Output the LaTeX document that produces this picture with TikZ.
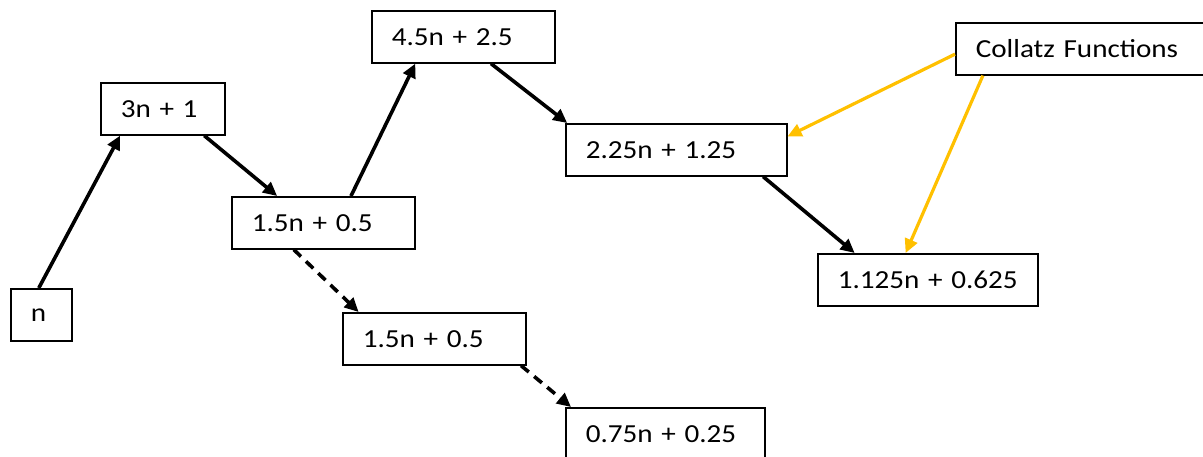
\documentclass[tikz,border=0pt]{standalone}
\usepackage{fontspec}
\setmainfont{Carlito}[FakeStretch=1.12]
\usetikzlibrary{calc,arrows.meta}
\definecolor{gold}{HTML}{FFC000}

\begin{document}
\begin{tikzpicture}[x=1pt, y=-1pt,
  fbox/.style={draw, line width=1.6pt, inner xsep=20pt, inner ysep=0pt, minimum height=52pt,
    anchor=north west, align=left, text width=#1, font=\fontsize{26}{30}\selectfont},
  arr/.style={line width=3.6pt, -{Triangle[length=14pt, width=13pt]}},
  dasharr/.style={arr, dash pattern=on 10pt off 7pt},
  goldarr/.style={arr, draw=gold, line width=3.2pt}]
  \useasboundingbox (0, 0) rectangle (1203, 457);
  \node[fbox=21pt] (n) at (10, 288) {n};
  \node[fbox=84pt] (threen) at (100, 82) {3n + 1};
  \node[fbox=143pt] (halfa) at (231, 196) {1.5n + 0.5};
  \node[fbox=143pt] (fourhalf) at (371, 10) {4.5n + 2.5};
  \node[fbox=143pt] (halfb) at (342, 312) {1.5n + 0.5};
  \node[fbox=159pt] (quarter) at (565, 407) {0.75n + 0.25};
  \node[fbox=181pt] (twoquarter) at (565, 123) {2.25n + 1.25};
  \node[fbox=180pt] (eighth) at (817, 253) {1.125n + 0.625};
  \node[fbox=212pt] (collatz) at (955, 22) {Collatz Functions};
  % main path
  \draw[arr] ($(n.north west)!.46!(n.north east)$) -- ($(threen.south west)!.16!(threen.south east)$);
  \draw[arr] ($(threen.south west)!.83!(threen.south east)$) -- ($(halfa.north west)!.25!(halfa.north east)$);
  \draw[arr] ($(halfa.north west)!.65!(halfa.north east)$) -- ($(fourhalf.south west)!.24!(fourhalf.south east)$);
  \draw[arr] ($(fourhalf.south west)!.65!(fourhalf.south east)$) -- ($(twoquarter.north west)!.01!(twoquarter.north east)$);
  \draw[arr] ($(twoquarter.south west)!.89!(twoquarter.south east)$) -- ($(eighth.north west)!.17!(eighth.north east)$);
  % dashed branch
  \draw[dasharr] ($(halfa.south west)!.34!(halfa.south east)$) -- ($(halfb.north west)!.09!(halfb.north east)$);
  \draw[dasharr] ($(halfb.south west)!.97!(halfb.south east)$) -- ($(quarter.north west)!.03!(quarter.north east)$);
  % labels
  \draw[goldarr] ($(collatz.north west)!.6!(collatz.south west)$) -- ($(twoquarter.north east)!.25!(twoquarter.south east)$);
  \draw[goldarr] ($(collatz.south west)!.11!(collatz.south east)$) -- ($(eighth.north west)!.4!(eighth.north east)$);
\end{tikzpicture}
\end{document}
